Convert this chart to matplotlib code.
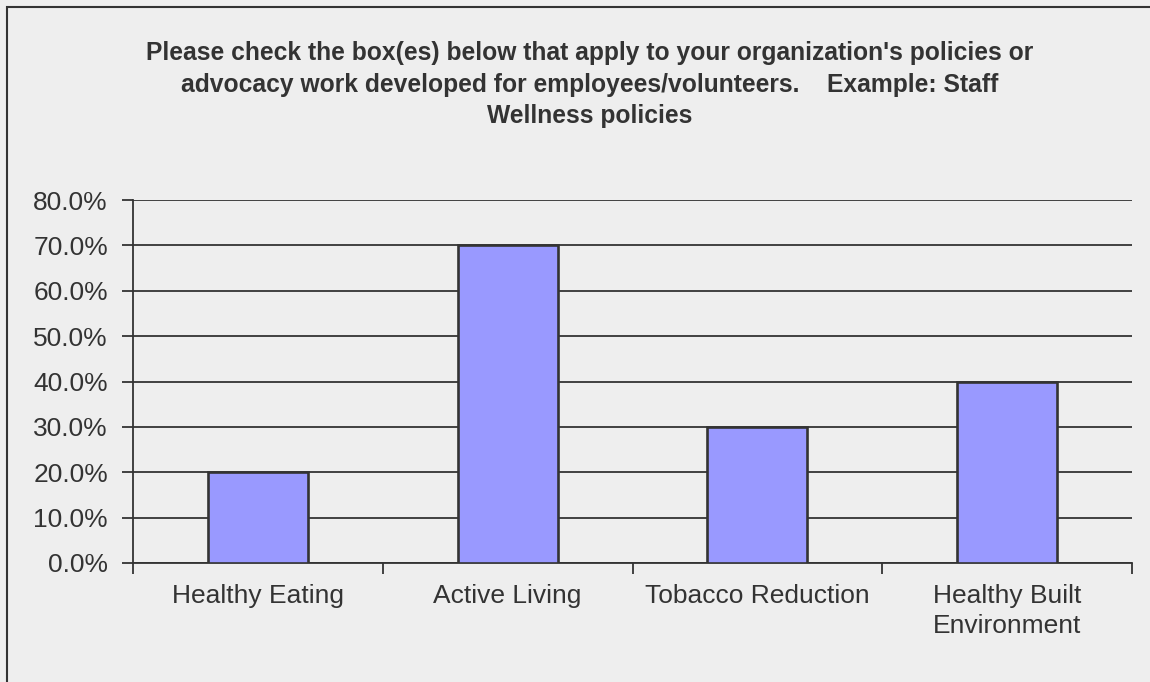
import matplotlib.pyplot as plt
from matplotlib.patches import Rectangle
from matplotlib.ticker import FuncFormatter, FixedLocator
import numpy as np

categories = ["Healthy Eating", "Active Living", "Tobacco Reduction",
              "Healthy Built\nEnvironment"]
percentages = [20.0, 70.0, 30.0, 40.0]
y_ticks = [0, 10, 20, 30, 40, 50, 60, 70, 80]

title = ("Please check the box(es) below that apply to your organization's policies or\n"
         "advocacy work developed for employees/volunteers.    Example: Staff\n"
         "Wellness policies")

plt.rcParams['font.family'] = ['Liberation Sans', 'DejaVu Sans']
ink = "#333333"
bg = "#eeeeee"

fig = plt.figure(figsize=(11.5, 6.82), dpi=100, facecolor=bg)
ax = fig.add_axes([133 / 1150, 1 - 563 / 682, 999 / 1150, 363 / 682])
ax.set_facecolor(bg)

# frame around the whole chart
fig.patches.append(Rectangle((7 / 1150, -0.1), 1.2, 1 - 7 / 682 + 0.1,
                             transform=fig.transFigure, fill=False,
                             edgecolor=ink, linewidth=1.5))

x = np.arange(len(categories))
ax.bar(x, percentages, width=0.4, color="#9999ff", edgecolor=ink,
       linewidth=1.9, zorder=3)

ax.set_xlim(-0.5, len(categories) - 0.5)
ax.set_ylim(0, 80)
ax.set_yticks(y_ticks)
ax.yaxis.set_major_formatter(FuncFormatter(lambda v, p: f"{v:.1f}%"))
ax.yaxis.grid(True, color=ink, linewidth=1.3, zorder=1)

ax.set_xticks(x)
ax.set_xticklabels(categories, fontsize=19, color=ink, linespacing=1.3)
ax.xaxis.set_minor_locator(FixedLocator(np.arange(-0.5, len(categories), 1.0)))
ax.tick_params(axis="x", which="major", length=0, pad=15)
ax.tick_params(axis="x", which="minor", length=8, width=1.3, color=ink,
               direction="out")
ax.tick_params(axis="y", length=8, width=1.3, color=ink, labelsize=19,
               labelcolor=ink, pad=10)

for side in ["top", "right"]:
    ax.spines[side].set_visible(False)
for side in ["left", "bottom"]:
    ax.spines[side].set_color(ink)
    ax.spines[side].set_linewidth(1.3)

fig.text(590 / 1150, 1 - 41 / 682, title, ha="center", va="top",
         fontsize=17.7, fontweight="bold", color=ink, linespacing=1.4)

fig.savefig("out.png", dpi=100, facecolor=bg)
